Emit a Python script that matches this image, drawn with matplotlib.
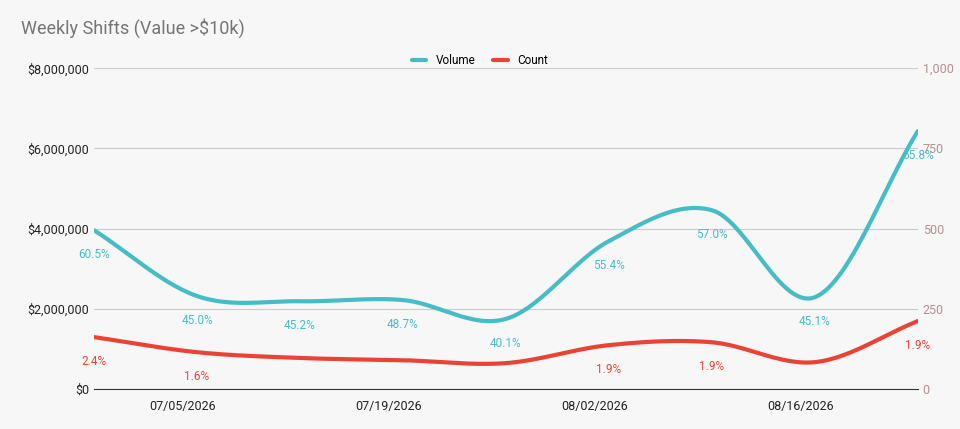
import matplotlib.pyplot as plt
import matplotlib.dates as mdates
import numpy as np
import pandas as pd

plt.rcParams["font.family"] = ["Roboto", "DejaVu Sans"]

weeks = pd.date_range("2026-06-29", periods=9, freq="7D")
tick_dates = pd.to_datetime(["2026-07-05", "2026-07-19", "2026-08-02", "2026-08-16"])
volume = [3.96e6, 2.32e6, 2.19e6, 2.22e6, 1.75e6, 3.69e6, 4.46e6, 2.29e6, 6.43e6]
count = [162, 115, 97, 90, 81, 137, 146, 84, 212]
volume_pct = ["60.5%", "45.0%", "45.2%", "48.7%", "40.1%", "55.4%", "57.0%", "45.1%", "55.8%"]
count_pct = ["2.4%", "1.6%", None, None, None, "1.9%", "1.9%", None, "1.9%"]

TEAL = "#46bdc6"
RED = "#ea4335"
BG = "#f7f7f7"


def smooth(x, y, n=30):
    # catmull-rom through the points
    x = np.asarray(x, float)
    y = np.asarray(y, float)
    px = np.concatenate([[2 * x[0] - x[1]], x, [2 * x[-1] - x[-2]]])
    py = np.concatenate([[2 * y[0] - y[1]], y, [2 * y[-1] - y[-2]]])
    xs, ys = [], []
    for i in range(1, len(px) - 2):
        t = np.linspace(0, 1, n)
        for p, out in ((px, xs), (py, ys)):
            p0, p1, p2, p3 = p[i - 1], p[i], p[i + 1], p[i + 2]
            out.append(0.5 * (2 * p1 + (-p0 + p2) * t + (2 * p0 - 5 * p1 + 4 * p2 - p3) * t ** 2
                              + (-p0 + 3 * p1 - 3 * p2 + p3) * t ** 3))
    return np.concatenate(xs), np.concatenate(ys)


xnum = mdates.date2num(weeks)

fig = plt.figure(figsize=(9.6, 4.29), dpi=100, facecolor=BG)
ax = fig.add_axes([0.098, 0.093, 0.858, 0.748], facecolor=BG)
ax2 = ax.twinx()

sx, sy = smooth(xnum, volume)
ax.plot(sx, sy, color=TEAL, lw=3, label="Volume", solid_capstyle="round")
cx, cy = smooth(xnum, count)
ax2.plot(cx, cy, color=RED, lw=3, label="Count", solid_capstyle="round")

for x, v, t in zip(xnum, volume, volume_pct):
    ax.annotate(t, (x, v), xytext=(0, -13), textcoords="offset points",
                ha="center", va="top", fontsize=8.5, color=TEAL)
for x, v, t in zip(xnum, count, count_pct):
    if t:
        ax2.annotate(t, (x, v), xytext=(0, -13), textcoords="offset points",
                     ha="center", va="top", fontsize=8.5, color=RED)

ax.set_xlim(xnum[0], xnum[-1])
ax.set_ylim(0, 8e6)
ax2.set_ylim(0, 1000)
ax.set_yticks(np.arange(0, 8e6 + 1, 2e6))
ax.yaxis.set_major_formatter(plt.FuncFormatter(lambda v, p: f"${v:,.0f}"))
ax2.set_yticks([0, 250, 500, 750, 1000])
ax2.set_yticklabels(["0", "250", "500", "750", "1,000"])
ax.set_xticks(mdates.date2num(tick_dates))
ax.set_xticklabels([d.strftime("%m/%d/%Y") for d in tick_dates])

ax.grid(axis="y", color="#cccccc", lw=0.8)
for a in (ax, ax2):
    for s in a.spines.values():
        s.set_visible(False)
ax.spines["bottom"].set_visible(True)
ax.spines["bottom"].set_color("#333333")
ax.tick_params(axis="both", length=0, labelsize=9, colors="#222222")
ax2.tick_params(axis="y", length=0, labelsize=9, colors="#b09090")
ax.tick_params(axis="x", pad=8)

h1, l1 = ax.get_legend_handles_labels()
h2, l2 = ax2.get_legend_handles_labels()
fig.legend(h1 + h2, l1 + l2, loc="center", bbox_to_anchor=(0.5, 0.858), ncol=2,
           frameon=False, fontsize=8.5, handlelength=1.2, columnspacing=1.5)

fig.text(0.022, 0.935, "Weekly Shifts (Value >$10k)", fontsize=13, color="#757575", va="center")

fig.savefig("out.png", dpi=100, facecolor=BG)
